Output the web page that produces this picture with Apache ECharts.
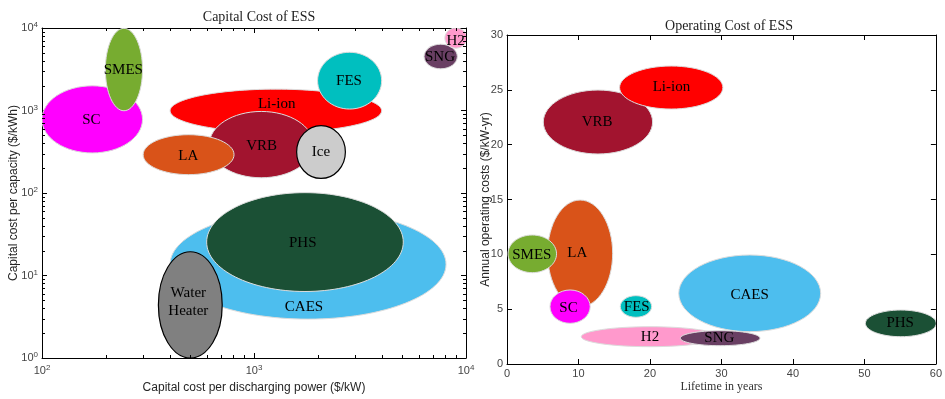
<!DOCTYPE html>
<html><head><meta charset="utf-8">
<script src="https://cdn.jsdelivr.net/npm/echarts@6/dist/echarts.min.js"></script>
<style>html,body{margin:0;padding:0;background:#fff}#c{width:945px;height:399px}</style>
</head><body><div id="c"></div>
<script>
// ---- Capital cost chart (log-log) ----
const capNames  = ['SC','SMES','Li-ion','VRB','LA','Ice','FES','SNG','H2','CAES','PHS','Water\nHeater'];
const capXMin   = [100, 199, 402, 615, 300, 1589, 1995, 6340, 7950, 402, 598, 354];
const capXMax   = [298, 298, 4000, 1905, 805, 2698, 4000, 9100, 10100, 8050, 5060, 708];
const capYMin   = [306, 993, 543, 153, 167, 150, 1041, 3200, 5700, 2.96, 6.4, 1];
const capYMax   = [1991, 9900, 1815, 974, 509, 655, 5080, 6357, 10000, 63, 101, 19.4];
const capLabelX = [171, 242, 1279, 1087, 490, 2070, 2805, 7540, 8933, 1722, 1698, 490];
const capLabelY = [773, 3106, 1207, 368, 279, 317, 2244, 4467, 7030, 4.1, 24.5, 4.71];
const capXMinor = [200,300,400,500,600,700,800,900,2000,3000,4000,5000,6000,7000,8000,9000];
const capYMinor = [2,3,4,5,6,7,8,9,20,30,40,50,60,70,80,90,200,300,400,500,600,700,800,900,2000,3000,4000,5000,6000,7000,8000,9000];

// ---- Operating cost chart (linear) ----
const opNames  = ['VRB','Li-ion','LA','SMES','SC','FES','CAES','H2','SNG','PHS'];
const opXMin   = [5.08, 15.75, 5.68, 0.14, 6.01, 15.85, 24.03, 10.39, 24.25, 50.14];
const opXMax   = [20.37, 30.2, 14.78, 6.93, 11.64, 20.23, 43.88, 29.61, 35.39, 60.05];
const opYMin   = [19.15, 23.25, 5.22, 8.33, 3.71, 4.26, 2.95, 1.58, 1.67, 2.49];
const opYMax   = [24.98, 27.17, 14.95, 11.76, 6.75, 6.23, 9.94, 3.40, 3.04, 4.92];
const opLabelX = [12.6, 23.0, 9.84, 3.47, 8.6, 18.15, 33.95, 20.0, 29.7, 55.0];
const opLabelY = [22.07, 25.26, 10.09, 9.94, 5.08, 5.23, 6.29, 2.49, 2.40, 3.71];

const colorMap = {'SC':'#FF00FF','SMES':'#77AC30','Li-ion':'#FF0000','VRB':'#A2142F','LA':'#D95319',
  'Ice':'#CCCCCC','FES':'#00BFBF','SNG':'#693F63','H2':'#FF99CC','CAES':'#4DBEEE','PHS':'#1B5035','Water\nHeater':'#808080'};
const darkEdge = {'Ice':true,'Water\nHeater':true};

const SERIF = '"Liberation Serif", "DejaVu Serif", serif';
const SANS = '"Liberation Sans", Arial, sans-serif';

function ellipseSeries(names, xmin, xmax, ymin, ymax, xi, yi) {
  return {
    type: 'custom', xAxisIndex: xi, yAxisIndex: yi, clip: true, silent: true, z: 2,
    data: names.map((n, i) => [xmin[i], ymin[i], xmax[i], ymax[i], i]),
    encode: {x: [0, 2], y: [1, 3]},
    renderItem(params, api) {
      const p1 = api.coord([api.value(0), api.value(1)]);
      const p2 = api.coord([api.value(2), api.value(3)]);
      const name = names[api.value(4)];
      const dark = darkEdge[name];
      return {
        type: 'ellipse',
        shape: {cx: (p1[0] + p2[0]) / 2, cy: (p1[1] + p2[1]) / 2,
                rx: Math.abs(p2[0] - p1[0]) / 2, ry: Math.abs(p2[1] - p1[1]) / 2},
        style: {fill: colorMap[name], stroke: dark ? '#000' : '#dcdcdc', lineWidth: dark ? 1.2 : 1}
      };
    }
  };
}
function labelSeries(names, lx, ly, xi, yi) {
  return {
    type: 'custom', xAxisIndex: xi, yAxisIndex: yi, clip: false, silent: true, z: 3,
    data: names.map((n, i) => [lx[i], ly[i], i]),
    renderItem(params, api) {
      const c = api.coord([api.value(0), api.value(1)]);
      return {
        type: 'text',
        style: {text: names[api.value(2)], x: c[0], y: c[1], fill: '#000',
                font: '15px ' + SERIF, align: 'center', verticalAlign: 'middle', lineHeight: 18}
      };
    }
  };
}
function minorTickSeries(vals, isX, xi, yi, lo, hi) {
  return {
    type: 'custom', xAxisIndex: xi, yAxisIndex: yi, clip: false, silent: true, z: 4,
    data: vals.map(v => isX ? [v, lo] : [lo, v]),
    renderItem(params, api) {
      const v = isX ? api.value(0) : api.value(1);
      const a = api.coord(isX ? [v, lo] : [lo, v]);
      const b = api.coord(isX ? [v, hi] : [hi, v]);
      const st = {stroke: '#000', lineWidth: 1};
      if (isX) {
        const x = Math.round(a[0]) + 0.5;
        return {type: 'group', children: [
          {type: 'line', shape: {x1: x, y1: a[1], x2: x, y2: a[1] - 3}, style: st},
          {type: 'line', shape: {x1: x, y1: b[1], x2: x, y2: b[1] + 3}, style: st}]};
      } else {
        const y = Math.round(a[1]) + 0.5;
        return {type: 'group', children: [
          {type: 'line', shape: {x1: a[0], y1: y, x2: a[0] + 3, y2: y}, style: st},
          {type: 'line', shape: {x1: b[0], y1: y, x2: b[0] - 3, y2: y}, style: st}]};
      }
    }
  };
}

const tickLbl = {color: '#444', fontFamily: SANS, fontSize: 11};
const logLabel = {
  ...tickLbl,
  formatter: v => '{b|10}{s|' + Math.round(Math.log10(v)) + '}',
  rich: {b: {fontSize: 11, color: '#444', fontFamily: SANS, lineHeight: 14},
         s: {fontSize: 8, color: '#444', fontFamily: SANS, verticalAlign: 'top', lineHeight: 8}}
};
const axLine = {show: true, onZero: false, lineStyle: {color: '#000', width: 1}};
const axTick = {show: true, inside: true, length: 5, lineStyle: {color: '#000'}};
const nameSans = {fontFamily: SANS, fontSize: 12, color: '#262626'};

const option = {
  animation: false,
  backgroundColor: '#fff',
  title: [
    {text: 'Capital Cost of ESS', left: 254, top: 5, textAlign: 'center',
     textStyle: {fontFamily: SERIF, fontSize: 14, fontWeight: 'normal', color: '#222'}},
    {text: 'Operating Cost of ESS', left: 724, top: 14, textAlign: 'center',
     textStyle: {fontFamily: SERIF, fontSize: 14, fontWeight: 'normal', color: '#222'}}
  ],
  grid: [
    {left: 42, right: 479, top: 28, bottom: 40},
    {left: 507, right: 5, top: 35, bottom: 35}
  ],
  xAxis: [
    {type: 'log', gridIndex: 0, min: 100, max: 10000, position: 'bottom', axisLine: axLine, axisTick: axTick,
     axisLabel: {...logLabel, margin: 6}, splitLine: {show: false},
     name: 'Capital cost per discharging power ($/kW)', nameLocation: 'middle', nameGap: 24, nameMoveOverlap: false, nameTextStyle: nameSans},
    {type: 'log', gridIndex: 0, min: 100, max: 10000, position: 'top', axisLine: axLine, axisTick: axTick,
     axisLabel: {show: false}, splitLine: {show: false}},
    {type: 'value', gridIndex: 1, min: 0, max: 60, interval: 10, position: 'bottom', axisLine: axLine, axisTick: axTick,
     axisLabel: {...tickLbl, margin: 4}, splitLine: {show: false},
     name: 'Lifetime in years', nameLocation: 'middle', nameGap: 17, nameMoveOverlap: false,
     nameTextStyle: {fontFamily: SERIF, fontSize: 12, color: '#333'}},
    {type: 'value', gridIndex: 1, min: 0, max: 60, interval: 10, position: 'top', axisLine: axLine, axisTick: axTick,
     axisLabel: {show: false}, splitLine: {show: false}}
  ],
  yAxis: [
    {type: 'log', gridIndex: 0, min: 1, max: 10000, position: 'left', axisLine: axLine, axisTick: axTick,
     axisLabel: {...logLabel, margin: 4}, splitLine: {show: false},
     name: 'Capital cost per capacity ($/kWh)', nameLocation: 'middle', nameGap: 22, nameMoveOverlap: false, nameTextStyle: nameSans},
    {type: 'log', gridIndex: 0, min: 1, max: 10000, position: 'right', axisLine: axLine, axisTick: axTick,
     axisLabel: {show: false}, splitLine: {show: false}},
    {type: 'value', gridIndex: 1, min: 0, max: 30, interval: 5, position: 'left', axisLine: axLine, axisTick: axTick,
     axisLabel: {...tickLbl, margin: 4}, splitLine: {show: false},
     name: 'Annual operating costs ($/kW-yr)', nameLocation: 'middle', nameGap: 15, nameMoveOverlap: false, nameTextStyle: nameSans},
    {type: 'value', gridIndex: 1, min: 0, max: 30, interval: 5, position: 'right', axisLine: axLine, axisTick: axTick,
     axisLabel: {show: false}, splitLine: {show: false}}
  ],
  series: [
    ellipseSeries(capNames, capXMin, capXMax, capYMin, capYMax, 0, 0),
    labelSeries(capNames, capLabelX, capLabelY, 0, 0),
    minorTickSeries(capXMinor, true, 0, 0, 1, 10000),
    minorTickSeries(capYMinor, false, 0, 0, 100, 10000),
    ellipseSeries(opNames, opXMin, opXMax, opYMin, opYMax, 2, 2),
    labelSeries(opNames, opLabelX, opLabelY, 2, 2)
  ]
};
const chart = echarts.init(document.getElementById('c'), null, {renderer: 'canvas'});
chart.setOption(option);
</script>
</body></html>
